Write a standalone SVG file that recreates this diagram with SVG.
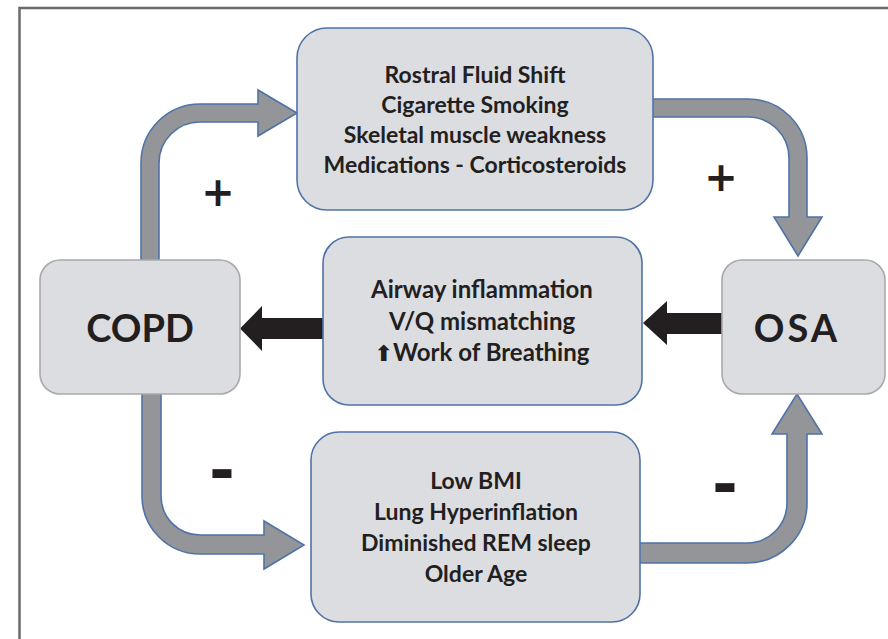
<svg xmlns="http://www.w3.org/2000/svg" width="888" height="639" viewBox="0 0 888 639">
  <style>
    .box { fill: #dcdde0; stroke: #4f73a8; stroke-width: 1.6; }
    .end { fill: #dcdde0; stroke: #a9a9ab; stroke-width: 1.6; }
    .gray { fill: #939598; stroke: #4f73a8; stroke-width: 1.6; stroke-linejoin: miter; }
    .black { fill: #231f20; }
    .t { font-family: Lato, "Open Sans", "Liberation Sans", sans-serif; font-weight: bold; font-size: 23px; fill: #231f20; text-anchor: middle; }
    .m { font-size: 24px; }
    .big { font-size: 38px; }
    .sign { font-family: "DejaVu Sans", sans-serif; font-weight: bold; fill: #231f20; text-anchor: middle; }
    .minus { font-family: "Liberation Sans", sans-serif; font-weight: bold; fill: #231f20; text-anchor: middle; font-size: 75px; }
  </style>
  <rect x="0" y="0" width="888" height="639" fill="#ffffff"/>
  <rect x="19.5" y="8" width="900" height="700" fill="none" stroke="#6b6b6b" stroke-width="2.5"/>

  <g id="connectors">
    <path class="gray" d="M141,262 L141,163 A59,59 0 0 1 200,104 L258,104 L258,90 L297,113 L258,136 L258,122 L200,122 A41,41 0 0 0 159,163 L159,262 Z"/>
    <path class="gray" d="M651,99 L748,99 A59,59 0 0 1 807,158 L807,217 L822,217 L798,256 L774,217 L789,217 L789,158 A41,41 0 0 0 748,117 L651,117 Z"/>
    <path class="gray" d="M142,392 L142,496 A58,58 0 0 0 200,554 L264,554 L264,569 L304,545 L264,521 L264,535 L200,535 A39,39 0 0 1 161,496 L161,392 Z"/>
    <path class="gray" d="M638,543 L747,543 A40,40 0 0 0 787,503 L787,434 L772,434 L797,394 L822,434 L807,434 L807,503 A60,60 0 0 1 747,563 L638,563 Z"/>
    <path class="black" d="M324,318 L262,318 L262,306 L240,328.5 L262,351 L262,339 L324,339 Z"/>
    <path class="black" d="M723,313 L667,313 L667,301 L643,323 L667,345 L667,334 L723,334 Z"/>
  </g>

  <g id="copd">
    <rect class="end" x="40" y="260" width="200" height="134" rx="20"/>
    <text class="t big" x="140" y="342">COPD</text>
  </g>
  <g id="osa">
    <rect class="end" x="722" y="260" width="163" height="134" rx="20"/>
    <text class="t big" x="797" y="342" letter-spacing="3">OSA</text>
  </g>
  <g id="risk-up">
    <rect class="box" x="297" y="28" width="356" height="182" rx="30"/>
    <text class="t" x="475" y="83">Rostral Fluid Shift</text>
    <text class="t" x="475" y="113">Cigarette Smoking</text>
    <text class="t" x="475" y="143">Skeletal muscle weakness</text>
    <text class="t" x="475" y="173">Medications - Corticosteroids</text>
  </g>
  <g id="mechanisms">
    <rect class="box" x="323" y="237" width="319" height="168" rx="26"/>
    <text class="t m" x="482" y="298">Airway inflammation</text>
    <text class="t m" x="482" y="330">V/Q mismatching</text>
    <text class="t m" x="482" y="361"><tspan font-family="DejaVu Sans, sans-serif" font-size="22">⬆</tspan>Work of Breathing</text>
  </g>
  <g id="risk-down">
    <rect class="box" x="311" y="432" width="329" height="190" rx="28"/>
    <text class="t" x="476" y="489">Low BMI</text>
    <text class="t" x="476" y="520">Lung Hyperinflation</text>
    <text class="t" x="476" y="551">Diminished REM sleep</text>
    <text class="t" x="476" y="582">Older Age</text>
  </g>

  <g id="signs">
    <text class="sign" x="218" y="206" font-size="40">+</text>
    <text class="sign" x="721" y="191" font-size="40">+</text>
    <text class="minus" x="222" y="493">-</text>
    <text class="minus" x="725" y="507">-</text>
  </g>
</svg>
